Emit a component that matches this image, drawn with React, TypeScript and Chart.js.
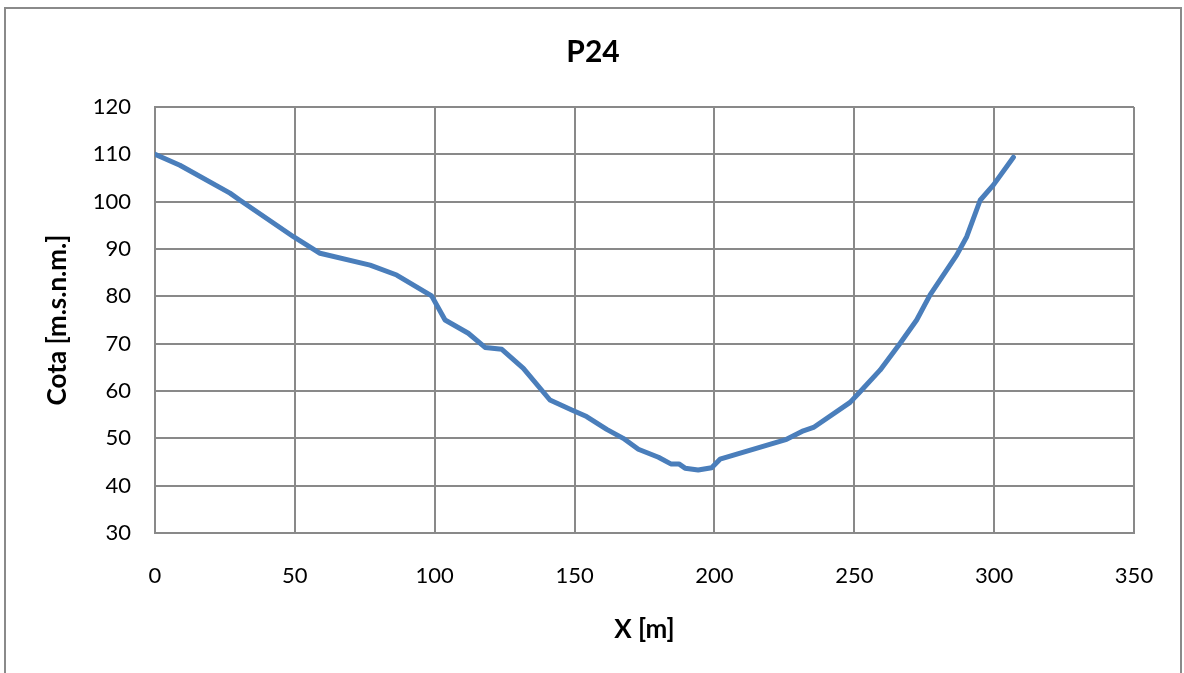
import React, { useEffect, useRef } from "react";
import { Chart, registerables } from "chart.js";

Chart.register(...registerables);

// Cross-section profile P24: horizontal distance vs. elevation
const distanceM = [
  0, 8.9, 26.8, 30.4, 49.5, 59, 76.9, 86.4, 98.9, 103.7, 112, 118, 124, 131.7,
  141.2, 149, 154.3, 161.5, 167.4, 172.8, 180, 184.4, 187.3, 189.5, 194.2, 199,
  202, 225.8, 231.8, 235.4, 248.5, 252, 259.2, 266.4, 272.3, 277.1, 286.6,
  290.2, 295, 299.7, 306.9,
];
const elevation = [
  110, 107.7, 101.8, 100.3, 92.6, 89.1, 86.6, 84.5, 80.1, 75, 72.2, 69.2, 68.8,
  64.8, 58.1, 56, 54.6, 51.9, 50, 47.7, 46, 44.6, 44.6, 43.7, 43.3, 43.8, 45.6,
  49.8, 51.6, 52.3, 57.6, 59.8, 64.4, 70.1, 75, 80.3, 88.7, 92.6, 100.3, 103.5,
  109.4,
];

const chartTitle = "P24";
const xAxisTitle = "X [m]";
const yAxisTitle = "Cota [m.s.n.m.]";
const xMin = 0;
const xMax = 350;
const xStep = 50;
const yMin = 30;
const yMax = 120;
const yStep = 10;

const WIDTH = 1184;
const HEIGHT = 673;
const GRID = "#898989";
const LINE = "#4a7ebb";
const FONT = "Lato";

export default function App() {
  const canvasRef = useRef<HTMLCanvasElement | null>(null);

  useEffect(() => {
    const canvas = canvasRef.current;
    if (!canvas) return;
    const points = distanceM.map((x, i) => ({ x, y: elevation[i] }));
    const chart = new Chart(canvas, {
      type: "line",
      data: {
        datasets: [
          {
            data: points,
            borderColor: LINE,
            borderWidth: 5,
            pointRadius: 0,
            tension: 0,
            fill: false,
            borderCapStyle: "round",
            borderJoinStyle: "round",
          },
        ],
      },
      options: {
        animation: false,
        responsive: false,
        devicePixelRatio: 1,
        layout: { padding: { left: 52, right: 50, top: 0, bottom: 0 } },
        plugins: {
          legend: { display: false },
          tooltip: { enabled: false },
          title: {
            display: true,
            text: chartTitle,
            color: "#000",
            font: { family: FONT, size: 30, weight: "bold" },
            padding: { top: 34, bottom: 37 },
          },
        },
        scales: {
          x: {
            type: "linear",
            min: xMin,
            max: xMax,
            ticks: {
              stepSize: xStep,
              color: "#000",
              font: { family: FONT, size: 22 },
              padding: 30,
              maxRotation: 0,
            },
            grid: { color: GRID, lineWidth: 2, drawTicks: false },
            border: { display: true, color: GRID, width: 2 },
            title: {
              display: true,
              text: xAxisTitle,
              color: "#000",
              font: { family: FONT, size: 26, weight: "bold" },
              padding: { top: 28, bottom: 28 },
            },
            afterFit: (scale: any) => {
              scale.height = HEIGHT - 533;
            },
          },
          y: {
            type: "linear",
            min: yMin,
            max: yMax,
            ticks: {
              stepSize: yStep,
              color: "#000",
              font: { family: FONT, size: 22 },
              padding: 24,
            },
            grid: { color: GRID, lineWidth: 2, drawTicks: false },
            border: { display: true, color: GRID, width: 2 },
            title: {
              display: true,
              text: yAxisTitle,
              color: "#000",
              font: { family: FONT, size: 26, weight: "bold" },
              padding: { top: -10, bottom: -10 },
            },
            afterFit: (scale: any) => {
              scale.width = 155 - 52;
            },
          },
        },
      },
    });
    return () => chart.destroy();
  }, []);

  return (
    <div
      style={{
        position: "fixed",
        left: 0,
        top: 0,
        width: WIDTH,
        height: HEIGHT,
        background: "#fff",
        overflow: "hidden",
      }}
    >
      <div
        style={{
          position: "absolute",
          left: 4,
          top: 7,
          width: 1178,
          height: 700,
          border: "2px solid #8a8a8a",
          boxSizing: "border-box",
        }}
      />
      <canvas
        ref={canvasRef}
        width={WIDTH}
        height={HEIGHT}
        style={{ position: "absolute", left: 0, top: 0, width: WIDTH, height: HEIGHT }}
      />
    </div>
  );
}
